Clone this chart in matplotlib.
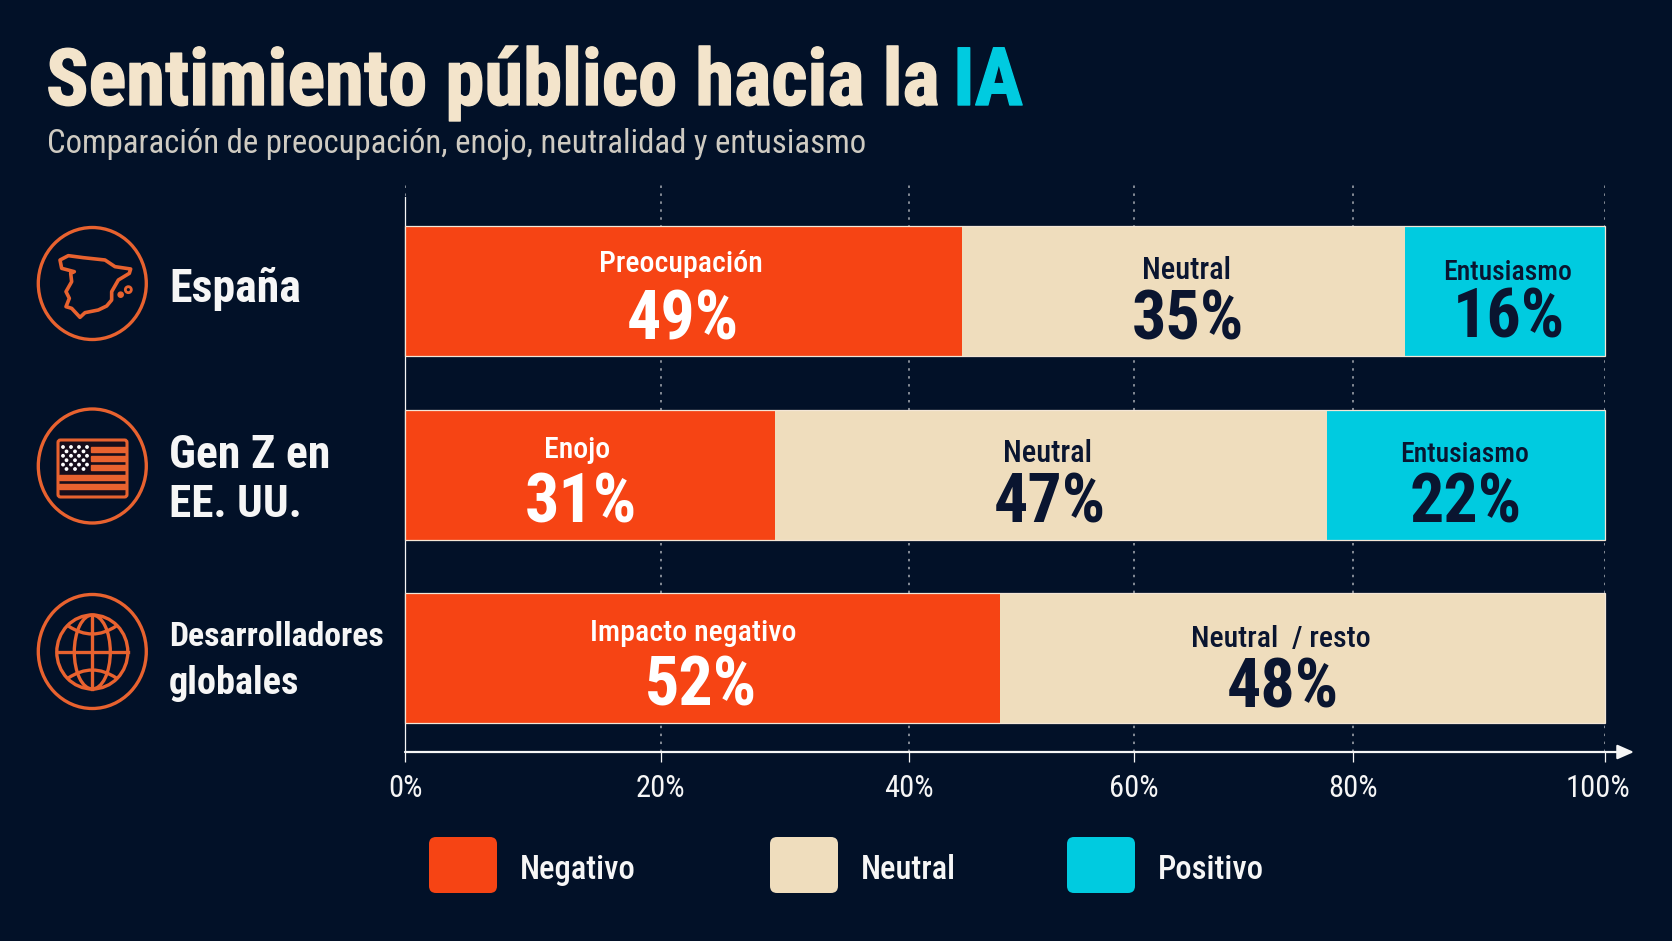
import numpy as np
import matplotlib
matplotlib.use("Agg")
import matplotlib.pyplot as plt
from matplotlib.patches import Circle, Ellipse, FancyBboxPatch, PathPatch, Polygon, Rectangle
from matplotlib.path import Path
from matplotlib.transforms import ScaledTranslation
import matplotlib.patheffects as pe

W, H = 1672, 941
BG = "#021128"; ORANGE = "#F64414"; BEIGE = "#EFDDBD"; CYAN = "#00CBE0"
ICON = "#E8622F"; CREAM = "#F3E4CB"; DARK = "#0A1530"; WHITE = "#F6F6F6"
COND = ["Roboto Condensed", "DejaVu Sans"]

# Data ------------------------------------------------------------------
categories = ["España", "Gen Z en\nEE. UU.", "Desarrolladores\nglobales"]
# segment lengths as drawn in the picture, on its 0-100 axis length
negative_drawn = [46.4, 30.8, 49.6]
neutral_drawn = [36.9, 46.0, 50.4]
positive_drawn = [16.7, 23.2, 0.0]
# values printed on the segments
negative_labels = ["49%", "31%", "52%"]
neutral_labels = ["35%", "47%", "48%"]
positive_labels = ["16%", "22%", ""]
negative_names = ["Preocupación", "Enojo", "Impacto negativo"]
neutral_names = ["Neutral", "Neutral", "Neutral  / resto"]
positive_names = ["Entusiasmo", "Entusiasmo", ""]
# the picture's gridlines are unevenly spaced
tick_positions = [0, 21.3, 42.0, 60.75, 79.0, 100]
tick_labels = ["0%", "20%", "40%", "60%", "80%", "100%"]
legend_names = ["Negativo", "Neutral", "Positivo"]

fig = plt.figure(figsize=(W / 100, H / 100), dpi=100, facecolor=BG)
def box(l, t, r, b):
    return [l / W, 1 - b / H, (r - l) / W, (b - t) / H]

ROW0, STEP = 291, 183.5
TOP, BOTTOM = 181, 752
ax = fig.add_axes(box(405, TOP, 1605, BOTTOM), facecolor=BG)
ax.set_xlim(0, 100)
ax.set_ylim((BOTTOM - ROW0) / STEP, (TOP - ROW0) / STEP)
rows = np.arange(len(categories))
bar_h = 130 / STEP

left = np.zeros(3)
for vals, col in zip((negative_drawn, neutral_drawn, positive_drawn), (ORANGE, BEIGE, CYAN)):
    ax.barh(rows, vals, left=left, height=bar_h, color=col, edgecolor="none", zorder=3, clip_on=False)
    left = left + np.array(vals)
ax.barh(rows, left, height=bar_h, fill=False, edgecolor="#F4E6D6", linewidth=0.9, zorder=4, clip_on=False)

ax.set_xticks(tick_positions, tick_labels, family=COND, fontsize=22, color=WHITE)
ax.set_yticks([])
ax.tick_params(axis="x", length=7.5, width=0.9, color=WHITE, pad=8.5)
ax.xaxis.grid(True, color="#A9ADB4", linewidth=1.1, linestyle=(0, (1.6, 3.6)), zorder=1)
ax.set_axisbelow(True)
for s in ("top", "right", "bottom"):
    ax.spines[s].set_visible(False)
ax.spines["left"].set_color(WHITE)
ax.spines["left"].set_linewidth(0.9)
ax.spines["left"].set_bounds((BOTTOM - ROW0) / STEP, (197 - ROW0) / STEP)
last = ax.get_xticklabels()[-1]
last.set_transform(last.get_transform() + ScaledTranslation(-7 / 100, 0, fig.dpi_scale_trans))

# Labels on segments: offsets in pixels from the segment centre
name_dx = [[-3, 3, 3], [-13, -3, -1], [-9, -22, 0]]
val_dx = [[-1, 5, 4], [-9, -1, 0], [-2, -20, 0]]
name_dy = [[-19, -12, -11], [-16, -12, -12], [-17, -11, 0]]
val_dy = [[49, 48, 47], [48, 48, 48], [48, 49, 0]]
name_size = [[21.5, 22, 20], [21.5, 22, 20], [21.5, 21.5, 20]]
start = np.zeros(3)
for k, (vals, names, labs) in enumerate(zip(
        (negative_drawn, neutral_drawn, positive_drawn),
        (negative_names, neutral_names, positive_names),
        (negative_labels, neutral_labels, positive_labels))):
    col = "white" if k == 0 else DARK
    for r in rows:
        if not labs[r]:
            continue
        cx = start[r] + vals[r] / 2
        ax.annotate(names[r], (cx, r), xytext=(name_dx[r][k], -name_dy[r][k]), textcoords="offset pixels",
                    ha="center", va="baseline", family=COND, fontweight=500, fontsize=name_size[r][k],
                    color=col, zorder=6)
        ax.annotate(labs[r], (cx, r), xytext=(val_dx[r][k], -val_dy[r][k]), textcoords="offset pixels",
                    ha="center", va="baseline", family=COND, fontweight="bold", fontsize=49, color=col, zorder=6)
    start = start + np.array(vals)

# Overlay in pixel coordinates ------------------------------------------
ov = fig.add_axes([0, 0, 1, 1], facecolor="none", zorder=5)
ov.set_xlim(0, W); ov.set_ylim(H, 0); ov.axis("off")

ov.text(46, 105, "Sentimiento público hacia la", family=COND, fontweight="bold", fontsize=56.7, color=CREAM,
        va="baseline", path_effects=[pe.withStroke(linewidth=1.0, foreground=CREAM)])
ov.text(953, 105, "IA", family=COND, fontweight="bold", fontsize=58, color=CYAN, va="baseline",
        path_effects=[pe.withStroke(linewidth=1.0, foreground=CYAN)])
ov.text(47, 153, "Comparación de preocupación, enojo, neutralidad y entusiasmo", family=COND,
        fontsize=23.6, color="#CFCBC2", va="baseline")

ov.annotate("", xy=(1634, 752), xytext=(405, 752),
            arrowprops=dict(arrowstyle="-|>,head_length=0.5,head_width=0.22", mutation_scale=20,
                            color=WHITE, lw=1.6, shrinkA=0, shrinkB=0))

# Row titles
big = dict(family=COND, fontweight="bold", color=WHITE, va="baseline")
ov.text(169, 302, "España", fontsize=33, **big)
ov.text(169, 468, "Gen Z en", fontsize=33, **big)
ov.text(169, 517, "EE. UU.", fontsize=32.5, **big)
ov.text(169, 646, "Desarrolladores", fontsize=24.3, **big)
ov.text(169, 694, "globales", fontsize=27.5, **big)

# Icons: the rings are slightly taller than wide in the picture
for cy, ring_h in zip((283.5, 466, 651.5), (112, 114, 114)):
    ov.add_patch(Ellipse((92.3, cy), 108, ring_h, fill=False, edgecolor=ICON, lw=2.4))

spain = np.array([(90,120),(115,107),(160,113),(225,120),(255,140),(302,147),(298,160),(265,180),(245,215),
                  (245,240),(230,258),(205,270),(165,278),(150,292),(125,265),(108,260),(118,235),(108,215),
                  (125,185),(122,160),(133,155),(95,145)], float) / 3 + (30, 220)
ov.add_patch(Polygon(spain, closed=True, fill=False, edgecolor=ICON, lw=2.6, joinstyle="round"))
ov.add_patch(Circle((30 + 295 / 3, 220 + 209 / 3), 3.0, fill=False, edgecolor=ICON, lw=2.0))
ov.add_patch(Circle((30 + 272 / 3, 220 + 224 / 3), 2.6, color=ICON))

# Flag
fx0, fy0, fx1, fy1 = 58, 440, 127, 497
ov.add_patch(FancyBboxPatch((fx0, fy0), fx1 - fx0, fy1 - fy0, boxstyle="round,pad=0,rounding_size=2.5",
                            facecolor="#170E1C", edgecolor=ICON, lw=2.2))
for y in (447, 456, 465):
    ov.add_patch(Rectangle((91, y), 35, 5, color=ICON))
for y in (475, 484):
    ov.add_patch(Rectangle((59, y), 67, 5, color=ICON))
for i, y in enumerate(np.linspace(447, 469, 6)):
    for x in np.linspace(63 + (3.5 if i % 2 else 0), 87 - (3.5 if i % 2 else 0), 4 if i % 2 == 0 else 3):
        ov.add_patch(Circle((x, y), 1.2, color="white"))

# Globe
gx, gy = 92.3, 652
gk = dict(fill=False, edgecolor=ICON, lw=2.4)
ov.add_patch(Ellipse((gx, gy), 71, 74, **gk))
ov.add_patch(Ellipse((gx, gy), 36, 74, **gk))
ov.plot([gx, gx], [gy - 37, gy + 37], color=ICON, lw=2.4)
ov.plot([gx - 35.5, gx + 35.5], [gy, gy], color=ICON, lw=2.4)
for sgn in (-1, 1):
    verts = [(gx - 24, gy + sgn * 26), (gx, gy + sgn * 10), (gx + 24, gy + sgn * 26)]
    ov.add_patch(PathPatch(Path(verts, [Path.MOVETO, Path.CURVE3, Path.CURVE3]), **gk))

# Legend
for x0, tx, name, col in zip((429, 770, 1067), (520, 861, 1158), legend_names, (ORANGE, BEIGE, CYAN)):
    ov.add_patch(FancyBboxPatch((x0, 837), 68, 56, boxstyle="round,pad=0,rounding_size=7", facecolor=col, edgecolor="none"))
    ov.text(tx, 879, name, family=COND, fontweight=500, fontsize=23.5, color=WHITE, va="baseline")

fig.savefig("out.png", dpi=100, facecolor=BG)
